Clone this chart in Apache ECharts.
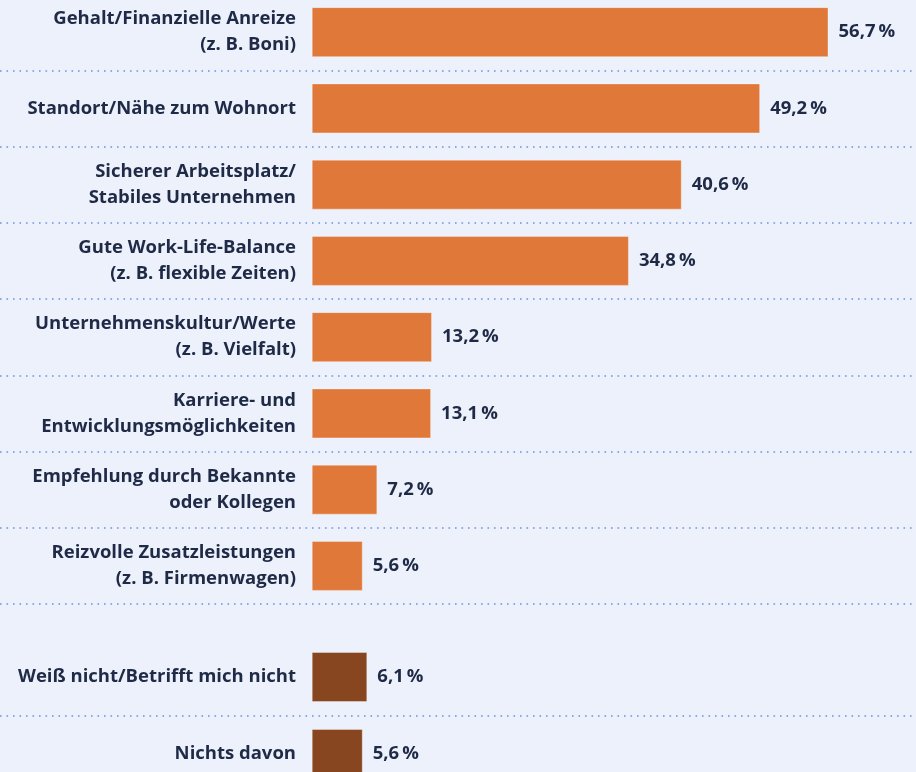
<!DOCTYPE html>
<html>
<head>
<meta charset="utf-8">
<script src="https://cdn.jsdelivr.net/npm/echarts@6/dist/echarts.min.js"></script>
<style>
html,body{margin:0;padding:0;background:#edf1fc;}
#c{width:916px;height:772px;}
</style>
</head>
<body>
<div id="c"></div>
<script>
const mainCategories = [
  'Gehalt/Finanzielle Anreize\n(z. B. Boni)',
  'Standort/Nähe zum Wohnort',
  'Sicherer Arbeitsplatz/\nStabiles Unternehmen',
  'Gute Work-Life-Balance\n(z. B. flexible Zeiten)',
  'Unternehmenskultur/Werte\n(z. B. Vielfalt)',
  'Karriere- und\nEntwicklungsmöglichkeiten',
  'Empfehlung durch Bekannte\noder Kollegen',
  'Reizvolle Zusatzleistungen\n(z. B. Firmenwagen)'
];
const mainValues = [56.7, 49.2, 40.6, 34.8, 13.2, 13.1, 7.2, 5.6];
const otherCategories = ['Weiß nicht/Betrifft mich nicht', 'Nichts davon'];
const otherValues = [6.1, 5.6];

const FONT = '"Open Sans", "Noto Sans", sans-serif';
const TEXT = '#1e2a46';
const split = {show: true, showMinLine: false, lineStyle: {color: '#6b93e0', width: 1.6, type: [1.6, 4.9]}};
const fmt = p => p.value.toFixed(1).replace('.', ',') + '\u2009%';

function yAxis(gi, cats) {
  return {
    type: 'category', gridIndex: gi, data: cats, inverse: true, offset: -312,
    axisLine: {show: false}, axisTick: {show: false}, splitLine: split,
    axisLabel: {margin: 16, color: TEXT, fontFamily: FONT, fontSize: 18.5, fontWeight: 'bold', lineHeight: 26, align: 'right'}
  };
}
function xAxis(gi) {
  return {type: 'value', gridIndex: gi, min: -34.2, max: 66.3, show: false, splitLine: {show: false}};
}
function series(gi, vals, color) {
  return {
    type: 'bar', xAxisIndex: gi, yAxisIndex: gi, data: vals, barWidth: 50,
    itemStyle: {color: color, borderColor: 'rgba(255,255,255,0.35)', borderWidth: 1},
    label: {show: true, position: 'right', distance: 10, formatter: fmt, color: TEXT, fontFamily: FONT, fontSize: 18.5, fontWeight: 'bold'},
    silent: true, animation: false
  };
}

const chart = echarts.init(document.getElementById('c'), null, {renderer: 'canvas'});
chart.setOption({
  backgroundColor: '#edf1fc',
  animation: false,
  grid: [
    {left: 0, right: 0, top: -6, height: 610, outerBoundsMode: 'none', containLabel: false},
    {left: 0, right: 0, top: 638.5, height: 154, outerBoundsMode: 'none', containLabel: false}
  ],
  xAxis: [xAxis(0), xAxis(1)],
  yAxis: [yAxis(0, mainCategories), yAxis(1, otherCategories)],
  series: [series(0, mainValues, '#e07839'), series(1, otherValues, '#87461f')]
});
</script>
</body>
</html>
